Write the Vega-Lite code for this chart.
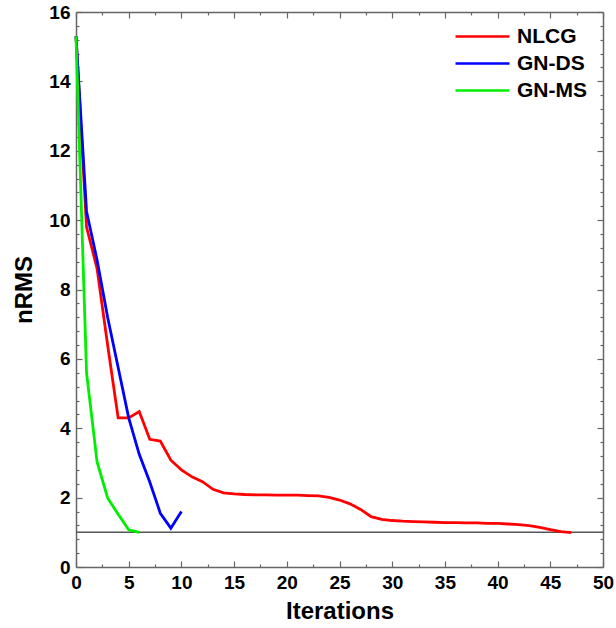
{
  "$schema": "https://vega.github.io/schema/vega-lite/v6.json",
  "width": 527,
  "height": 555,
  "autosize": "none",
  "padding": {"left": 76, "top": 12, "right": 13, "bottom": 61},
  "background": "white",
  "config": {
    "view": {"stroke": null},
    "axis": {"grid": false, "labelFlush": false, "domainColor": "#666666", "tickColor": "#666666", "domainWidth": 1.5, "tickWidth": 1.2,
      "labelFont": "Liberation Sans", "labelFontWeight": "bold", "labelFontSize": 19, "labelColor": "black",
      "titleFont": "Liberation Sans", "titleFontWeight": "bold", "titleFontSize": 24, "titleColor": "black"},
    "legend": {"labelFont": "Liberation Sans", "labelFontWeight": "bold", "labelFontSize": 21, "labelColor": "black"}
  },
  "datasets": {
    "curves": [
      {"method": "NLCG", "iter": 0, "nrms": 15.3},
      {"method": "NLCG", "iter": 1, "nrms": 9.8},
      {"method": "NLCG", "iter": 2, "nrms": 8.6},
      {"method": "NLCG", "iter": 3, "nrms": 6.4},
      {"method": "NLCG", "iter": 4, "nrms": 4.3},
      {"method": "NLCG", "iter": 5, "nrms": 4.3},
      {"method": "NLCG", "iter": 6, "nrms": 4.48},
      {"method": "NLCG", "iter": 7, "nrms": 3.68},
      {"method": "NLCG", "iter": 8, "nrms": 3.63},
      {"method": "NLCG", "iter": 9, "nrms": 3.08},
      {"method": "NLCG", "iter": 10, "nrms": 2.8},
      {"method": "NLCG", "iter": 11, "nrms": 2.6},
      {"method": "NLCG", "iter": 12, "nrms": 2.46},
      {"method": "NLCG", "iter": 13, "nrms": 2.24},
      {"method": "NLCG", "iter": 14, "nrms": 2.14},
      {"method": "NLCG", "iter": 15, "nrms": 2.11},
      {"method": "NLCG", "iter": 16, "nrms": 2.09},
      {"method": "NLCG", "iter": 17, "nrms": 2.08},
      {"method": "NLCG", "iter": 18, "nrms": 2.08},
      {"method": "NLCG", "iter": 19, "nrms": 2.07},
      {"method": "NLCG", "iter": 20, "nrms": 2.07},
      {"method": "NLCG", "iter": 21, "nrms": 2.07},
      {"method": "NLCG", "iter": 22, "nrms": 2.06},
      {"method": "NLCG", "iter": 23, "nrms": 2.05},
      {"method": "NLCG", "iter": 24, "nrms": 2.01},
      {"method": "NLCG", "iter": 25, "nrms": 1.93},
      {"method": "NLCG", "iter": 26, "nrms": 1.82},
      {"method": "NLCG", "iter": 27, "nrms": 1.66},
      {"method": "NLCG", "iter": 28, "nrms": 1.45},
      {"method": "NLCG", "iter": 29, "nrms": 1.37},
      {"method": "NLCG", "iter": 30, "nrms": 1.34},
      {"method": "NLCG", "iter": 31, "nrms": 1.32},
      {"method": "NLCG", "iter": 32, "nrms": 1.31},
      {"method": "NLCG", "iter": 33, "nrms": 1.3},
      {"method": "NLCG", "iter": 34, "nrms": 1.29},
      {"method": "NLCG", "iter": 35, "nrms": 1.28},
      {"method": "NLCG", "iter": 36, "nrms": 1.28},
      {"method": "NLCG", "iter": 37, "nrms": 1.27},
      {"method": "NLCG", "iter": 38, "nrms": 1.27},
      {"method": "NLCG", "iter": 39, "nrms": 1.26},
      {"method": "NLCG", "iter": 40, "nrms": 1.26},
      {"method": "NLCG", "iter": 41, "nrms": 1.24},
      {"method": "NLCG", "iter": 42, "nrms": 1.22},
      {"method": "NLCG", "iter": 43, "nrms": 1.19},
      {"method": "NLCG", "iter": 44, "nrms": 1.14},
      {"method": "NLCG", "iter": 45, "nrms": 1.08},
      {"method": "NLCG", "iter": 46, "nrms": 1.02},
      {"method": "NLCG", "iter": 47, "nrms": 0.99},
      {"method": "GN-DS", "iter": 0, "nrms": 15.3},
      {"method": "GN-DS", "iter": 1, "nrms": 10.25},
      {"method": "GN-DS", "iter": 2, "nrms": 8.85},
      {"method": "GN-DS", "iter": 3, "nrms": 7.2},
      {"method": "GN-DS", "iter": 4, "nrms": 5.75},
      {"method": "GN-DS", "iter": 5, "nrms": 4.3},
      {"method": "GN-DS", "iter": 6, "nrms": 3.25},
      {"method": "GN-DS", "iter": 7, "nrms": 2.45},
      {"method": "GN-DS", "iter": 8, "nrms": 1.55},
      {"method": "GN-DS", "iter": 9, "nrms": 1.12},
      {"method": "GN-DS", "iter": 10, "nrms": 1.6},
      {"method": "GN-MS", "iter": 0, "nrms": 15.3},
      {"method": "GN-MS", "iter": 1, "nrms": 5.6},
      {"method": "GN-MS", "iter": 2, "nrms": 3.03},
      {"method": "GN-MS", "iter": 3, "nrms": 1.99},
      {"method": "GN-MS", "iter": 4, "nrms": 1.52},
      {"method": "GN-MS", "iter": 5, "nrms": 1.07},
      {"method": "GN-MS", "iter": 6, "nrms": 1.0}
    ],
    "target": [{"level": 1, "from": 0, "to": 50}]
  },
  "layer": [
    {
      "data": {"name": "target"},
      "mark": {"type": "rule", "color": "#555555", "strokeWidth": 1.5},
      "encoding": {
        "x": {"field": "from", "type": "quantitative", "scale": {"domain": [0, 50], "nice": false},
          "axis": {"orient": "bottom", "values": [2.5, 7.5, 12.5, 17.5, 22.5, 27.5, 32.5, 37.5, 42.5, 47.5], "tickSize": -3, "labels": false, "domain": false, "title": null}},
        "x2": {"field": "to"},
        "y": {"field": "level", "type": "quantitative", "scale": {"domain": [0, 16], "nice": false},
          "axis": {"orient": "left", "values": [0.4, 0.8, 1.2, 1.6, 2.4, 2.8, 3.2, 3.6, 4.4, 4.8, 5.2, 5.6, 6.4, 6.8, 7.2, 7.6, 8.4, 8.8, 9.2, 9.6, 10.4, 10.8, 11.2, 11.6, 12.4, 12.8, 13.2, 13.6, 14.4, 14.8, 15.2, 15.6], "tickSize": -3, "labels": false, "domain": false, "title": null}}
      }
    },
    {
      "data": {"name": "curves"},
      "mark": {"type": "line", "strokeWidth": 2.8},
      "encoding": {
        "x": {"field": "iter", "type": "quantitative",
          "axis": {"orient": "bottom", "values": [0, 5, 10, 15, 20, 25, 30, 35, 40, 45, 50], "tickSize": -6, "labelPadding": 12, "title": "Iterations", "titlePadding": 7}},
        "y": {"field": "nrms", "type": "quantitative",
          "axis": {"orient": "left", "values": [0, 2, 4, 6, 8, 10, 12, 14, 16], "tickSize": -6, "labelPadding": 12, "title": "nRMS", "titlePadding": 12}},
        "color": {"field": "method", "type": "nominal",
          "scale": {"domain": ["NLCG", "GN-DS", "GN-MS"], "range": ["#ff0000", "#0000ff", "#00ee00"]},
          "legend": {"orient": "none", "legendX": 396, "legendY": 14, "title": null, "symbolType": "M-3,0H3", "symbolSize": 324, "symbolStrokeWidth": 2.5, "labelOffset": 24, "rowPadding": 5}}
      }
    },
    {
      "data": {"name": "curves"},
      "mark": {"type": "point", "opacity": 0},
      "encoding": {
        "x": {"field": "iter", "type": "quantitative",
          "axis": {"orient": "top", "values": [0, 5, 10, 15, 20, 25, 30, 35, 40, 45, 50], "tickSize": -6, "labels": false, "title": null}},
        "y": {"field": "nrms", "type": "quantitative",
          "axis": {"orient": "right", "values": [0, 2, 4, 6, 8, 10, 12, 14, 16], "tickSize": -6, "labels": false, "title": null}}
      }
    },
    {
      "data": {"name": "curves"},
      "mark": {"type": "point", "opacity": 0},
      "encoding": {
        "x": {"field": "iter", "type": "quantitative",
          "axis": {"orient": "top", "values": [2.5, 7.5, 12.5, 17.5, 22.5, 27.5, 32.5, 37.5, 42.5, 47.5], "tickSize": -3, "labels": false, "domain": false, "title": null}},
        "y": {"field": "nrms", "type": "quantitative",
          "axis": {"orient": "right", "values": [0.4, 0.8, 1.2, 1.6, 2.4, 2.8, 3.2, 3.6, 4.4, 4.8, 5.2, 5.6, 6.4, 6.8, 7.2, 7.6, 8.4, 8.8, 9.2, 9.6, 10.4, 10.8, 11.2, 11.6, 12.4, 12.8, 13.2, 13.6, 14.4, 14.8, 15.2, 15.6], "tickSize": -3, "labels": false, "domain": false, "title": null}}
      }
    }
  ],
  "resolve": {"axis": {"x": "independent", "y": "independent"}}
}
